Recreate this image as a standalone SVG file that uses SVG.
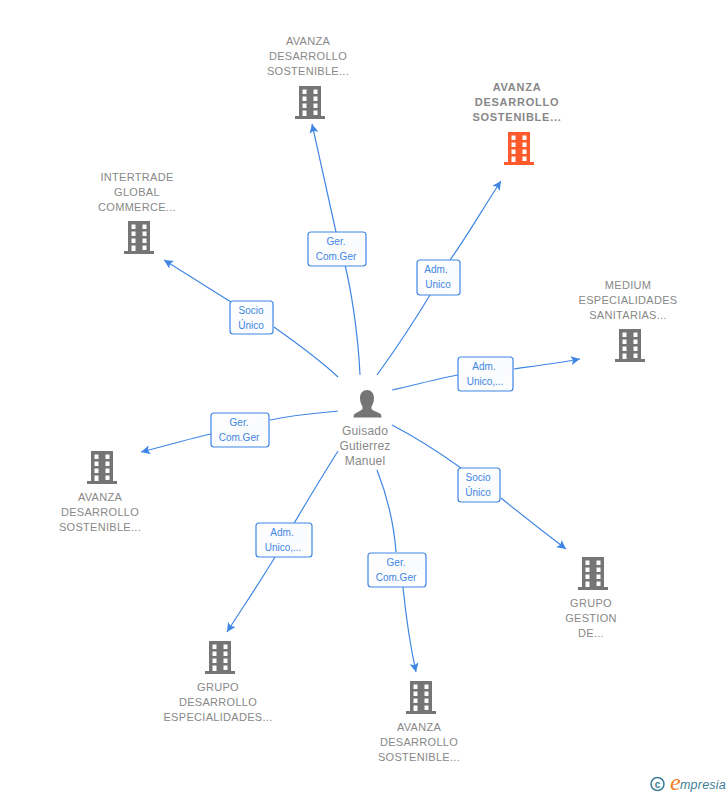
<svg xmlns="http://www.w3.org/2000/svg" width="728" height="795" viewBox="0 0 728 795">
<style>
text{font-family:"Liberation Sans",Arial,sans-serif}
.n{font-size:11px;fill:#888;text-anchor:middle;letter-spacing:.3px}
.b{font-weight:bold;letter-spacing:.75px}
.p{font-size:12px;fill:#888;text-anchor:middle;letter-spacing:.2px}
.l{font-size:10px;fill:#3f86e4;text-anchor:middle}
.c{fill:none;stroke:#3f86e4;stroke-width:1.2;marker-end:url(#a)}
.lb{fill:url(#g);stroke:#3f86e4;stroke-width:1.2}
</style>
<defs>
<linearGradient id="g" x1="0" y1="0" x2="1" y2="1"><stop offset="0" stop-color="#fff"/><stop offset=".6" stop-color="#fafbfd"/><stop offset="1" stop-color="#fff"/></linearGradient>
<marker id="a" markerUnits="userSpaceOnUse" markerWidth="11" markerHeight="10" refX="9" refY="4.500" orient="auto"><path d="M0 0L9 4.500L0 9L2 4.500Z" fill="#3f86e4"/></marker>
<symbol id="bld" viewBox="0 0 32 34" overflow="visible">
<path fill-rule="evenodd" d="M5 0H27V30H31V33H1V30H5ZM8.500 3.500V8H12.500V3.500ZM19.500 3.500V8H23.500V3.500ZM8.500 10.500V15H12.500V10.500ZM19.500 10.500V15H23.500V10.500ZM8.500 17.500V22H12.500V17.500ZM19.500 17.500V22H23.500V17.500ZM8.500 24.500V30H12.500V24.500ZM19.500 24.500V29H23.500V24.500Z"/>
</symbol>
</defs>
<g id="connectors">
<path class="c" d="M360 375C358 330 350 285 345 265M336 232C328 195 320 160 312 124"/>
<path class="c" d="M377 375C395 350 415 320 430 295M450 260C468 235 485 205 501 181"/>
<path class="c" d="M392 390C415 385 440 378 458 375M514 369C535 366 558 363 580 359"/>
<path class="c" d="M392 425C415 437 440 453 461 468M501 498C522 515 545 533 566 549"/>
<path class="c" d="M377 470C388 498 394 525 396 552M403 587C406 617 410 645 416 672"/>
<path class="c" d="M338 451C320 480 295 520 275 557M275 557C260 582 243 607 227 632"/>
<path class="c" d="M338 411C315 413 290 416 270 420M211 434C188 439 165 446 141 452"/>
<path class="c" d="M338 377C318 358 295 342 274 327M231 302C208 288 185 273 164 260"/>
</g>
<g id="center"><path fill="#757575" d="M367 390C371 390 374 393 374 398C374 402 372.500 405 371.500 406.500V409C373 411 378 412 380.500 414C381.300 415 381.500 416 381.500 417.500H353.500C353.500 416 353.700 415 354.500 414C357 412 361 411 362.500 409V406.500C361.500 405 360 402 360 398C360 393 363 390 367 390Z"/>
<text class="p"><tspan x="365" y="435">Guisado</tspan><tspan x="365" y="450">Gutierrez</tspan><tspan x="365" y="465">Manuel</tspan></text></g>
<g id="n1" fill="#757575"><use href="#bld" x="294" y="86" width="32" height="34"/><text class="n"><tspan x="308" y="45">AVANZA</tspan><tspan x="308" y="60">DESARROLLO</tspan><tspan x="308" y="75">SOSTENIBLE...</tspan></text></g>
<g id="n2" fill="#ff5a2b"><use href="#bld" x="503" y="132" width="32" height="34"/><text class="n b"><tspan x="517" y="91">AVANZA</tspan><tspan x="517" y="106">DESARROLLO</tspan><tspan x="517" y="121">SOSTENIBLE...</tspan></text></g>
<g id="n3" fill="#757575"><use href="#bld" x="614" y="329" width="32" height="34"/><text class="n"><tspan x="628" y="289">MEDIUM</tspan><tspan x="628" y="304">ESPECIALIDADES</tspan><tspan x="628" y="319">SANITARIAS...</tspan></text></g>
<g id="n4" fill="#757575"><use href="#bld" x="577" y="557" width="32" height="34"/><text class="n"><tspan x="591" y="607">GRUPO</tspan><tspan x="591" y="622">GESTION</tspan><tspan x="591" y="637">DE...</tspan></text></g>
<g id="n5" fill="#757575"><use href="#bld" x="405" y="681" width="32" height="34"/><text class="n"><tspan x="419" y="731">AVANZA</tspan><tspan x="419" y="746">DESARROLLO</tspan><tspan x="419" y="761">SOSTENIBLE...</tspan></text></g>
<g id="n6" fill="#757575"><use href="#bld" x="204" y="641" width="32" height="34"/><text class="n"><tspan x="218" y="691">GRUPO</tspan><tspan x="218" y="706">DESARROLLO</tspan><tspan x="218" y="721">ESPECIALIDADES...</tspan></text></g>
<g id="n7" fill="#757575"><use href="#bld" x="86" y="451" width="32" height="34"/><text class="n"><tspan x="100" y="501">AVANZA</tspan><tspan x="100" y="516">DESARROLLO</tspan><tspan x="100" y="531">SOSTENIBLE...</tspan></text></g>
<g id="n8" fill="#757575"><use href="#bld" x="123" y="221" width="32" height="34"/><text class="n"><tspan x="137" y="181">INTERTRADE</tspan><tspan x="137" y="196">GLOBAL</tspan><tspan x="137" y="211">COMMERCE...</tspan></text></g>
<g id="l1"><rect class="lb" x="308" y="232" width="58" height="34" rx="3"/><text class="l"><tspan x="336" y="245">Ger.</tspan><tspan x="336" y="260">Com.Ger</tspan></text></g>
<g id="l2"><rect class="lb" x="417" y="260" width="43" height="35" rx="3"/><text class="l"><tspan x="436" y="273">Adm.</tspan><tspan x="438" y="288">Unico</tspan></text></g>
<g id="l3"><rect class="lb" x="458" y="357" width="55" height="34" rx="3"/><text class="l"><tspan x="484" y="370">Adm.</tspan><tspan x="485" y="385">Unico,...</tspan></text></g>
<g id="l4"><rect class="lb" x="458" y="468" width="42" height="34" rx="3"/><text class="l"><tspan x="478" y="481">Socio</tspan><tspan x="478" y="496">Único</tspan></text></g>
<g id="l5"><rect class="lb" x="368" y="553" width="58" height="34" rx="3"/><text class="l"><tspan x="396" y="566">Ger.</tspan><tspan x="396" y="581">Com.Ger</tspan></text></g>
<g id="l6"><rect class="lb" x="256" y="523" width="56" height="34" rx="3"/><text class="l"><tspan x="282" y="536">Adm.</tspan><tspan x="283" y="551">Unico,...</tspan></text></g>
<g id="l7"><rect class="lb" x="211" y="413" width="58" height="34" rx="3"/><text class="l"><tspan x="239" y="426">Ger.</tspan><tspan x="239" y="441">Com.Ger</tspan></text></g>
<g id="l8"><rect class="lb" x="230" y="301" width="43" height="33" rx="3"/><text class="l"><tspan x="251" y="314">Socio</tspan><tspan x="251" y="329">Único</tspan></text></g>
<g id="logo"><circle cx="657.500" cy="784" r="6.500" fill="none" stroke="#3c7f96" stroke-width="1.500"/><text x="657.500" y="787.500" font-size="10" font-weight="bold" fill="#3c7f96" text-anchor="middle">c</text><text x="670" y="790" font-size="24" font-style="italic" fill="#f08020" style="font-family:'Liberation Serif',serif">e</text><text x="680" y="789" font-size="12.500" font-style="italic" fill="#3c7f96" letter-spacing=".2">mpresia</text></g>
</svg>
